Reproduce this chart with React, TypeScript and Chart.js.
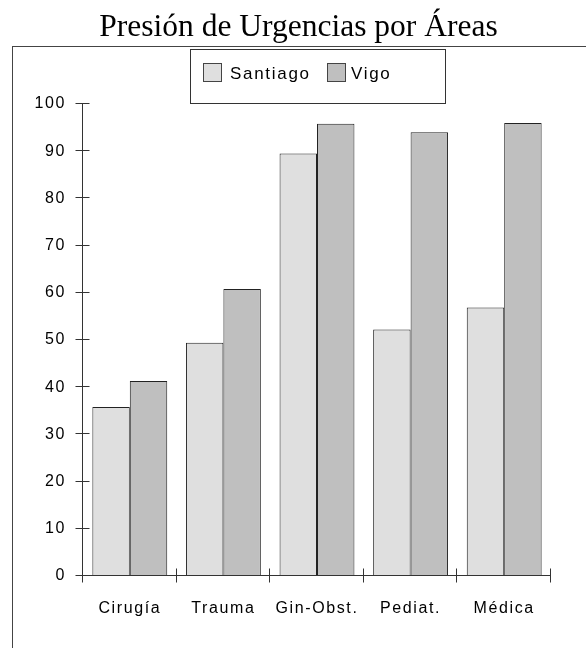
import React, { useEffect, useRef } from "react";
import { Chart, registerables } from "chart.js";

Chart.register(...registerables);

const titleText = "Presión de Urgencias por Áreas";
const categories = ["Cirugía", "Trauma", "Gin-Obst.", "Pediat.", "Médica"];
const seriesNames = ["Santiago", "Vigo"];
const santiagoValues = [35.8, 49.4, 89.5, 52.2, 56.9];
const vigoValues = [41.3, 60.8, 95.8, 94.0, 96.0];
const yTicks = [0, 10, 20, 30, 40, 50, 60, 70, 80, 90, 100];

const SANS = '"Liberation Sans", Arial, sans-serif';
const SERIF = '"Liberation Serif", "Times New Roman", serif';
const FILLS = ["#dfdfdf", "#bfbfbf"];
const EDGE = "#222";

// Frame, title, legend box, and the crossing tick marks on both axes
const decorations = {
  id: "decorations",
  beforeDraw(chart: any) {
    (chart.ctx as any).letterSpacing = "1.6px";
  },
  afterDraw(chart: any) {
    const ctx = chart.ctx as any;
    const area = chart.chartArea;
    const xs = chart.scales.x;
    const ys = chart.scales.y;
    ctx.save();
    ctx.letterSpacing = "0px";

    // outer frame
    ctx.strokeStyle = "#444";
    ctx.lineWidth = 1;
    ctx.strokeRect(12.5, 46.5, 1000, 1000);

    // title
    ctx.fillStyle = "#000";
    ctx.font = `31.5px ${SERIF}`;
    ctx.textAlign = "center";
    ctx.textBaseline = "alphabetic";
    ctx.fillText(titleText, 298.5, 36);

    // axes
    ctx.strokeStyle = "#333";
    const ax = Math.round(area.left) - 0.5;
    const ay = Math.round(area.bottom) - 0.5;
    ctx.beginPath();
    ctx.moveTo(ax, ys.getPixelForValue(100));
    ctx.lineTo(ax, ay);
    ctx.moveTo(ax, ay);
    ctx.lineTo(area.right, ay);
    ctx.stroke();

    // y ticks crossing the axis
    ctx.beginPath();
    yTicks.forEach((v) => {
      const y = Math.round(ys.getPixelForValue(v)) - 0.5;
      ctx.moveTo(ax - 7, y);
      ctx.lineTo(ax + 7, y);
    });
    // category boundaries crossing the x axis
    const step = xs.getPixelForValue(1) - xs.getPixelForValue(0);
    for (let i = 0; i <= categories.length; i++) {
      const x = Math.round(xs.getPixelForValue(i) - step / 2) - 0.5;
      ctx.moveTo(x, ay - 7);
      ctx.lineTo(x, ay + 7);
    }
    ctx.stroke();

    // legend box
    ctx.strokeStyle = "#333";
    ctx.strokeRect(190.5, 49.5, 255, 54);
    ctx.font = `17px ${SANS}`;
    ctx.letterSpacing = "1.7px";
    ctx.textAlign = "left";
    ctx.textBaseline = "alphabetic";
    const entries = [
      { sx: 203.5, tx: 230 },
      { sx: 327.5, tx: 351 },
    ];
    chart.data.datasets.forEach((ds: any, i: number) => {
      const e = entries[i];
      ctx.fillStyle = ds.backgroundColor;
      ctx.fillRect(e.sx, 63.5, 18, 18);
      ctx.strokeStyle = "#444";
      ctx.strokeRect(e.sx, 63.5, 18, 18);
      ctx.fillStyle = "#000";
      ctx.fillText(ds.label, e.tx, 79);
    });
    ctx.restore();
  },
};

export default function App() {
  const ref = useRef<HTMLCanvasElement | null>(null);

  useEffect(() => {
    if (!ref.current) return;
    const chart = new Chart(ref.current, {
      type: "bar",
      data: {
        labels: categories,
        datasets: [
          {
            label: seriesNames[0],
            data: santiagoValues,
            backgroundColor: FILLS[0],
            borderColor: EDGE,
            borderWidth: 1,
          },
          {
            label: seriesNames[1],
            data: vigoValues,
            backgroundColor: FILLS[1],
            borderColor: EDGE,
            borderWidth: 1,
          },
        ],
      },
      options: {
        animation: false,
        responsive: false,
        devicePixelRatio: 1,
        layout: { padding: { top: 104, left: 0, right: 35, bottom: 0 } },
        plugins: {
          legend: { display: false },
          title: { display: false },
          tooltip: { enabled: false },
        },
        datasets: {
          bar: { categoryPercentage: 0.8, barPercentage: 1.0 },
        },
        scales: {
          x: {
            grid: { display: false, drawTicks: false },
            border: { display: false },
            ticks: {
              color: "#000",
              font: { family: SANS, size: 16 },
              padding: 23,
              maxRotation: 0,
            },
            afterFit(scale: any) {
              scale.height = 72;
            },
          },
          y: {
            min: 0,
            max: 100,
            grid: { display: false, drawTicks: false },
            border: { display: false },
            ticks: {
              stepSize: 10,
              color: "#000",
              font: { family: SANS, size: 16 },
              padding: 17,
            },
            afterFit(scale: any) {
              scale.width = 83;
            },
          },
        },
      },
      plugins: [decorations],
    });
    return () => chart.destroy();
  }, []);

  return (
    <div style={{ position: "absolute", left: 0, top: 0, width: 586, height: 648, background: "#fff" }}>
      <canvas ref={ref} width={586} height={648} style={{ display: "block" }} />
    </div>
  );
}
